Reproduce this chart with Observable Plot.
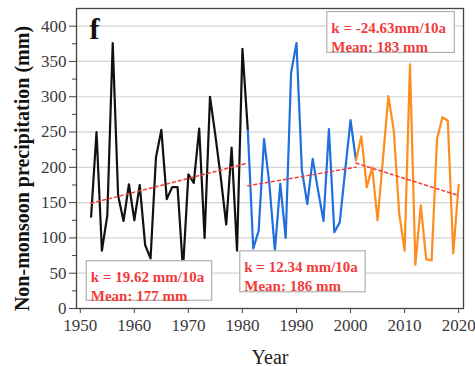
<!DOCTYPE html>
<html>
<head>
<meta charset="utf-8">
<script src="https://cdn.jsdelivr.net/npm/d3@7"></script>
<script src="https://cdn.jsdelivr.net/npm/@observablehq/plot@0.6"></script>
<style>
  html, body { margin: 0; padding: 0; background: white; }
</style>
</head>
<body>
<div id="chart"></div>
<script>
// Segment 1 (black): 1952–1981
const blackYears = d3.range(1952, 1982);
const blackValues = [130, 250, 82, 132, 376, 160, 124, 176, 125, 175, 90, 71, 214, 253, 155, 172, 172, 55, 190, 178, 255, 100, 300, 245, 185, 119, 228, 82, 368, 252];
// Segment 2 (blue): 1981–2001
const blueYears = d3.range(1981, 2002);
const blueValues = [252, 85, 110, 240, 175, 82, 177, 100, 334, 376, 196, 148, 212, 167, 124, 254, 108, 122, 195, 267, 210];
// Segment 3 (orange): 2001–2020
const orangeYears = d3.range(2001, 2021);
const orangeValues = [210, 244, 172, 200, 125, 212, 301, 252, 135, 82, 346, 62, 146, 70, 68, 240, 271, 266, 78, 175];

// Trend line endpoints
const trendSegments = ["p1", "p1", "p2", "p2", "p3", "p3"];
const trendYears = [1952, 1981, 1981, 2001, 2001, 2020];
const trendValues = [149, 206, 174, 200, 206, 160];

// Annotation texts
const annoTexts = [
  "k = 19.62 mm/10a\nMean: 177 mm",
  "k = 12.34 mm/10a\nMean: 186 mm",
  "k = -24.63mm/10a\nMean: 183 mm"
];

const xTicks = [1950, 1960, 1970, 1980, 1990, 2000, 2010, 2020];
const yTicks = [0, 50, 100, 150, 200, 250, 300, 350, 400];
const yMinorTicks = [25, 75, 125, 175, 225, 275, 325, 375];

const yLabel = "Non-monsoon precipitation (mm)";
const xLabel = "Year";
const panelLabel = "f";

const toRows = (years, values) => years.map((y, i) => ({year: y, value: values[i]}));
const black = toRows(blackYears, blackValues);
const blue = toRows(blueYears, blueValues);
const orange = toRows(orangeYears, orangeValues);
const trend = trendYears.map((y, i) => ({seg: trendSegments[i], year: y, value: trendValues[i]}));

// Annotation box placement (data coords)
const boxes = [
  {x1: 1951.2, x2: 1974.4, y1: 11, y2: 67, text: annoTexts[0]},
  {x1: 1979.6, x2: 2002.8, y1: 23, y2: 81, text: annoTexts[1]},
  {x1: 1995.7, x2: 2019.3, y1: 362, y2: 420, text: annoTexts[2]}
];

const serif = "'Liberation Serif', 'Times New Roman', Times, serif";
const red = "#f23c3c";

const chart = Plot.plot({
  width: 475,
  height: 366,
  marginLeft: 76,
  marginRight: 12,
  marginTop: 8,
  marginBottom: 58,
  style: {fontFamily: serif, fontSize: "16px", background: "white", color: "#3a3a3a"},
  x: {domain: [1949.3, 2020.9]},
  y: {domain: [0, 425]},
  marks: [
    Plot.gridY(yTicks, {stroke: "#d4d4d4", strokeOpacity: 1, strokeWidth: 1.2}),
    Plot.axisY(yTicks, {tickSize: 7, tickPadding: 3, fontSize: 17, label: null, stroke: "#444"}),
    Plot.axisY(yMinorTicks, {tickSize: 4, tickFormat: () => "", label: null, stroke: "#444"}),
    Plot.axisX(xTicks, {tickSize: 5, tickPadding: 5, fontSize: 17, tickFormat: "d", label: null, stroke: "#444"}),
    Plot.line(black, {x: "year", y: "value", stroke: "#111", strokeWidth: 2.2}),
    Plot.line(blue, {x: "year", y: "value", stroke: "#1f6fdc", strokeWidth: 2.2}),
    Plot.line(orange, {x: "year", y: "value", stroke: "#ff8c1f", strokeWidth: 2.2}),
    Plot.line(trend, {x: "year", y: "value", z: "seg", stroke: red, strokeWidth: 1.5, strokeDasharray: "3,3"}),
    Plot.rect(boxes, {x1: "x1", x2: "x2", y1: "y1", y2: "y2", fill: "white", stroke: "#b0b0b0", strokeWidth: 1.2}),
    Plot.text(boxes, {x: "x1", y: "y2", text: "text", textAnchor: "start", lineAnchor: "top", dx: 4, dy: 7, lineHeight: 1.27, fill: red, fontWeight: "bold", fontSize: 15}),
    Plot.text([panelLabel], {frameAnchor: "top-left", text: d => d, dx: 13, dy: 9, lineAnchor: "top", textAnchor: "start", fontWeight: "bold", fontSize: 30, fill: "#111"}),
    Plot.text([yLabel], {frameAnchor: "left", text: d => d, rotate: -90, dx: -54, dy: 10, textAnchor: "middle", fontWeight: "bold", fontSize: 20, fill: "#111"}),
    Plot.text([xLabel], {frameAnchor: "bottom", text: d => d, dy: 55, textAnchor: "middle", fontSize: 20, fill: "#222"}),
    Plot.frame({stroke: "#444", strokeWidth: 1.3})
  ]
});
document.getElementById("chart").appendChild(chart);
</script>
</body>
</html>
